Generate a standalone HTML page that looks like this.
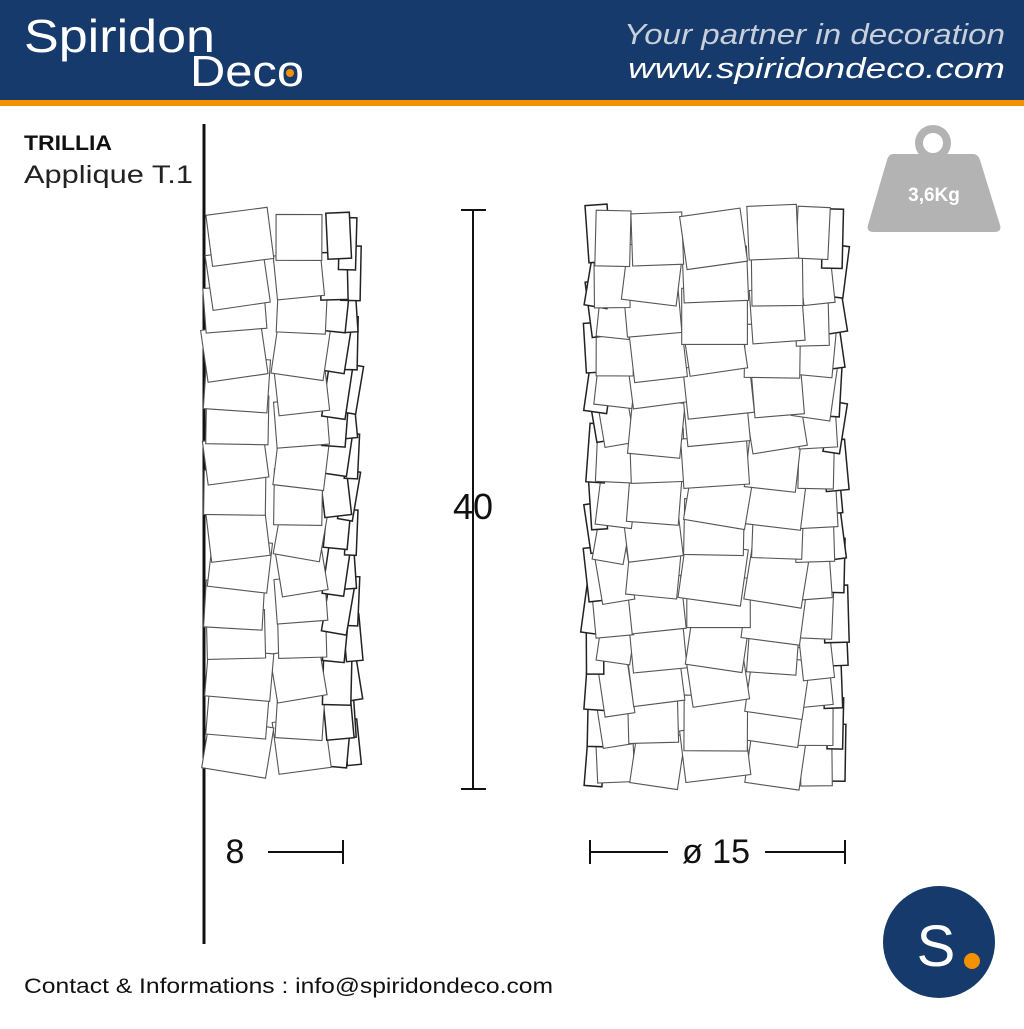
<!DOCTYPE html>
<html><head><meta charset="utf-8"><style>
body{margin:0;width:1024px;height:1024px;background:#fff;overflow:hidden;font-family:"Liberation Sans",sans-serif}
</style></head><body>
<svg id="s" width="1024" height="1024" xmlns="http://www.w3.org/2000/svg">
<rect x="0" y="0" width="1024" height="100" fill="#163a6b"/>
<rect x="0" y="100" width="1024" height="6" fill="#f39200"/>
<text x="24" y="52" fill="#fff" font-size="46" textLength="191" lengthAdjust="spacingAndGlyphs">Spiridon</text>
<text x="190" y="86" fill="#fff" font-size="44" textLength="114" lengthAdjust="spacingAndGlyphs">Deco</text>
<circle cx="290" cy="73" r="4" fill="#f39200"/>
<text x="1005" y="44" fill="#c8cfdb" font-size="29" font-style="italic" text-anchor="end" textLength="381" lengthAdjust="spacingAndGlyphs">Your partner in decoration</text>
<text x="1005" y="78" fill="#fff" font-size="29" font-style="italic" text-anchor="end" textLength="377" lengthAdjust="spacingAndGlyphs">www.spiridondeco.com</text>
<text x="24" y="150" font-size="21" font-weight="bold" fill="#111" textLength="88" lengthAdjust="spacingAndGlyphs">TRILLIA</text>
<text x="24" y="183" font-size="25" fill="#222" textLength="169" lengthAdjust="spacingAndGlyphs">Applique T.1</text>
<line x1="204" y1="124" x2="204" y2="944" stroke="#111" stroke-width="3"/>
<g fill="#b3b3b3"><circle cx="933" cy="143" r="14" fill="none" stroke="#b3b3b3" stroke-width="8"/>
<path d="M893 154 H973 Q978 154 980 160 L1000 225 Q1002 232 994 232 H874 Q866 232 868 225 L887 160 Q889 154 893 154Z"/></g>
<text x="934" y="201" font-size="19" font-weight="bold" fill="#fff" text-anchor="middle">3,6Kg</text>
<g stroke="#111" stroke-width="2" fill="none">
<line x1="473" y1="210" x2="473" y2="789"/><line x1="461" y1="210" x2="486" y2="210"/><line x1="461" y1="789" x2="486" y2="789"/>
<line x1="268" y1="852" x2="343" y2="852"/><line x1="343" y1="840" x2="343" y2="864"/>
<line x1="590" y1="852" x2="668" y2="852"/><line x1="765" y1="852" x2="845" y2="852"/>
<line x1="590" y1="840" x2="590" y2="864"/><line x1="845" y1="840" x2="845" y2="864"/>
</g>
<text x="473" y="519" font-size="36" text-anchor="middle" fill="#111">40</text>
<text x="235" y="863" font-size="34" text-anchor="middle" fill="#111">8</text>
<text x="716" y="863" font-size="34" text-anchor="middle" fill="#111">ø 15</text>
<g id="tiles"></g>
<circle cx="939" cy="942" r="56" fill="#163a6b"/>
<text x="936" y="966" font-size="58" fill="#fff" text-anchor="middle">S</text>
<circle cx="972" cy="961" r="8" fill="#f39200"/>
<text x="24" y="993" font-size="21" fill="#111" textLength="529" lengthAdjust="spacingAndGlyphs">Contact &amp; Informations : info@spiridondeco.com</text>
</svg>
<script>
var seed=7;function r(){seed=(seed*16807)%2147483647;return seed/2147483647;}
var g=document.getElementById('tiles'),ns="http://www.w3.org/2000/svg";
function tile(cx,cy,w,h,a,sw,col){var c=Math.cos(a),s=Math.sin(a),p=[[-w/2,-h/2],[w/2,-h/2],[w/2,h/2],[-w/2,h/2]].map(function(q){return (cx+q[0]*c-q[1]*s).toFixed(1)+","+(cy+q[0]*s+q[1]*c).toFixed(1)}).join(" ");
var e=document.createElementNS(ns,"polygon");e.setAttribute("points",p);e.setAttribute("fill","#fff");e.setAttribute("stroke",col);e.setAttribute("stroke-width",sw);g.appendChild(e);}
var cols=[{x:598,w:18},{x:614,w:32},{x:655,w:50},{x:716,w:60},{x:775,w:52},{x:815,w:34},{x:834,w:18}];
var rows=[];for(var y=755;y>=230;y-=37)rows.push(y);
rows.forEach(function(y){[0,6,1,5,2,4,3].forEach(function(i){var c=cols[i];var edge=(i==0||i==6);
tile(c.x+(r()-.5)*6,y+(r()-.5)*14,c.w+(r()-.3)*10,48+r()*12,(r()-.5)*0.35,edge?1.5:1.1,edge?"#222":"#555");});});
var sc=[{x:350,w:14},{x:336,w:24},{x:300,w:48},{x:237,w:60}];
var ry=[];for(var y=745;y>=220;y-=36)ry.push(y);
ry.forEach(function(y){sc.forEach(function(c,i){tile(c.x+(r()-.5)*6,y+(r()-.5)*12,c.w+(r()-.3)*8,44+r()*12,(r()-.5)*0.35,i<2?1.5:1.1,i<2?"#222":"#555");});});
</script>
</body></html>
